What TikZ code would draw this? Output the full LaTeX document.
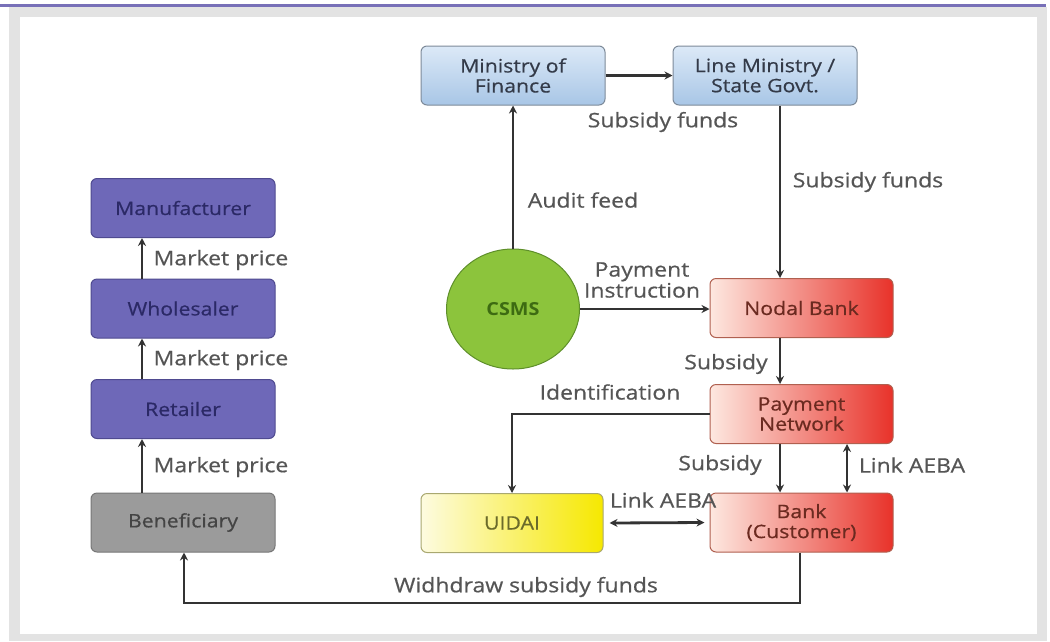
\documentclass[tikz,border=0pt]{standalone}
\usepackage{fontspec}
\setmainfont{Open Sans}
\newfontfamily\widefont[FakeStretch=1.15,FakeBold=0.6]{Open Sans}
\newfontfamily\widebold[FakeStretch=1.1]{Open Sans}
\usetikzlibrary{shapes.geometric,arrows.meta}
\definecolor{topline}{HTML}{7870B8}
\definecolor{bggray}{HTML}{E3E3E3}
\definecolor{purfill}{HTML}{6E68B8}
\definecolor{purdraw}{HTML}{4F4A90}
\definecolor{purtext}{HTML}{2B2966}
\definecolor{bluetop}{HTML}{DCE9F7}
\definecolor{bluebot}{HTML}{A8C6E6}
\definecolor{bluedraw}{HTML}{7D8A99}
\definecolor{bluetext}{HTML}{333A48}
\definecolor{redl}{HTML}{FDE8E0}
\definecolor{redr}{HTML}{E8322A}
\definecolor{reddraw}{HTML}{B06050}
\definecolor{redtext}{HTML}{6B2A20}
\definecolor{yell}{HTML}{FDFBE0}
\definecolor{yelr}{HTML}{F6E800}
\definecolor{yeldraw}{HTML}{A9A870}
\definecolor{yeltext}{HTML}{6A6A2A}
\definecolor{grnfill}{HTML}{8CC43C}
\definecolor{grndraw}{HTML}{5E8F2A}
\definecolor{grntext}{HTML}{3D6B12}
\definecolor{benfill}{HTML}{9B9B9B}
\definecolor{bendraw}{HTML}{777777}
\definecolor{bentext}{HTML}{444444}
\definecolor{lbl}{HTML}{555555}
\definecolor{linec}{HTML}{333333}
\begin{document}
\begin{tikzpicture}[x=1pt,y=-1pt,
  box/.style={rounded corners=6pt, line width=1pt, minimum width=184pt, minimum height=59pt, align=center, inner sep=2pt, font=\widefont\fontsize{18.5}{20}\selectfont},
  bluebox/.style={box, draw=bluedraw, top color=bluetop, bottom color=bluebot, text=bluetext},
  purbox/.style={box, draw=purdraw, fill=purfill, text=purtext},
  benbox/.style={box, draw=bendraw, fill=benfill, text=bentext},
  redbox/.style={box, minimum width=183pt, draw=reddraw, left color=redl, right color=redr, text=redtext},
  yelbox/.style={box, minimum width=182pt, draw=yeldraw, left color=yell, right color=yelr, text=yeltext},
  lab/.style={text=lbl, font=\widefont\fontsize{20}{21}\selectfont, align=center, inner sep=1pt},
  arr/.style={draw=linec, line width=2.8pt, -{Stealth[length=8pt,width=8pt]}},
  darr/.style={draw=linec, line width=2.8pt, {Stealth[length=8pt,width=8pt]}-{Stealth[length=8pt,width=8pt]}},
  ln/.style={draw=linec, line width=2.8pt}
]
\useasboundingbox (0,0) rectangle (1050,641);
\fill[white] (0,0) rectangle (1050,641);
\fill[bggray] (9,7) rectangle (1047,641);
\fill[white] (20,17) rectangle (1037,634);
\draw[topline, line width=3pt] (0,5.5) -- (1046,5.5);

% nodes
\node[bluebox] (mof) at (513,75.5) {Ministry of\\Finance};
\node[bluebox] (lm) at (765,75.5) {Line Ministry /\\State Govt.};
\node[purbox] (man) at (183,208) {Manufacturer};
\node[purbox] (who) at (183,308.5) {Wholesaler};
\node[purbox] (ret) at (183,409) {Retailer};
\node[benbox] (ben) at (183,522.5) {Beneficiary};
\node[ellipse, draw=grndraw, line width=1pt, fill=grnfill, text=grntext, minimum width=133pt, minimum height=120pt, font=\widebold\bfseries\fontsize{18}{20}\selectfont] (csms) at (513,309) {CSMS};
\node[redbox] (nodal) at (801.5,308) {Nodal Bank};
\node[redbox] (pn) at (801.5,414) {Payment\\Network};
\node[redbox] (bank) at (801.5,522.5) {Bank\\(Customer)};
\node[yelbox] (uidai) at (512,523) {UIDAI};

% helper coordinates
\coordinate (xa) at (780,0);
\coordinate (xb) at (847,0);
\coordinate (xc) at (142,0);
\coordinate (w1) at (800,603);
\coordinate (w2) at (184,603);

% connectors
\draw[arr] (mof) -- (lm);
\draw[arr] (csms) -- (mof);
\draw[arr] (lm.south -| xa) -- (nodal.north -| xa);
\draw[arr] (csms.east) -- (csms.east -| nodal.west);
\draw[arr] (nodal.south -| xa) -- (pn.north -| xa);
\draw[arr] (pn.south -| xa) -- (bank.north -| xa);
\draw[darr] (pn.south -| xb) -- (bank.north -| xb);
\draw[arr] (pn.west) -| (uidai.north);
\draw[darr] ([xshift=6pt]uidai.east) -- ([xshift=-5pt]bank.west);
\draw[arr] (bank.south -| w1) -- (w1) -- (w2) -- (ben.south -| w2);
\draw[arr] (ben.north -| xc) -- (ret.south -| xc);
\draw[arr] (ret.north -| xc) -- (who.south -| xc);
\draw[arr] (who.north -| xc) -- (man.south -| xc);

% labels
\node[lab] (l1) at (663,122) {Subsidy funds};
\node[lab] (l2) at (868,182) {Subsidy funds};
\node[lab] (l3) at (583,200) {Audit feed};
\node[lab] (l4) at (642,280) {Payment\\Instruction};
\node[lab] (l5) at (726,364) {Subsidy};
\node[lab] (l6) at (610,392) {Identification};
\node[lab] (l7) at (720,465) {Subsidy};
\node[lab] (l8) at (912,465) {Link AEBA};
\node[lab] (l9) at (663,500) {Link AEBA};
\node[lab] (l10) at (526,587) {Widhdraw subsidy funds};
\node[lab] (m1) at (221,260) {Market price};
\node[lab] (m2) at (221,360) {Market price};
\node[lab] (m3) at (221,467) {Market price};
\end{tikzpicture}
\end{document}
